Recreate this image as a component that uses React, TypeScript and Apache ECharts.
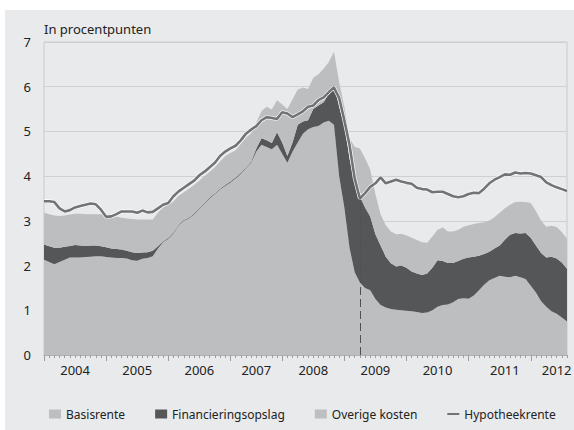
import React, { useEffect, useRef } from "react";
import * as echarts from "echarts";

// Monthly observations, starting January 2004
const startYear = 2004;
const months: string[] = Array.from({ length: 102 }, (_, i) => {
  const y = startYear + Math.floor(i / 12);
  const m = (i % 12) + 1;
  return `${y}-${m < 10 ? "0" + m : m}`;
});

const basisrente = [
  2.13, 2.08, 2.03, 2.08, 2.13, 2.18, 2.18, 2.18, 2.19, 2.2, 2.21, 2.21,
  2.19, 2.18, 2.17, 2.17, 2.16, 2.12, 2.11, 2.15, 2.17, 2.21, 2.38, 2.52,
  2.6, 2.72, 2.9, 3.0, 3.05, 3.15, 3.27, 3.38, 3.5, 3.6, 3.7, 3.78,
  3.86, 3.95, 4.05, 4.18, 4.3, 4.55, 4.7, 4.65, 4.6, 4.7,
  4.5, 4.3, 4.55, 4.75, 4.95, 5.05, 5.1, 5.12, 5.2, 5.24, 5.15, 4.0,
  3.3, 2.4, 1.85, 1.62, 1.5, 1.45, 1.25, 1.12, 1.06, 1.03, 1.01, 1.0,
  0.99, 0.98, 0.96, 0.94, 0.95, 1.0, 1.08, 1.12, 1.13, 1.18, 1.25, 1.27,
  1.26, 1.33, 1.45, 1.57, 1.67, 1.72, 1.77, 1.75, 1.74, 1.77, 1.74, 1.7,
  1.55, 1.4, 1.2, 1.08, 0.98, 0.92, 0.84, 0.75,
];

const financieringsopslag = [
  0.34, 0.35, 0.37, 0.32, 0.29, 0.26, 0.28, 0.27, 0.25, 0.25, 0.24, 0.22,
  0.22, 0.2, 0.2, 0.19, 0.17, 0.18, 0.17, 0.14, 0.13, 0.12, 0.05, 0.02,
  0.02, 0.02, 0.02, 0.02, 0.02, 0.02, 0.02, 0.02, 0.02, 0.02, 0.02, 0.02,
  0.02, 0.02, 0.02, 0.02, 0.02, 0.07, 0.15, 0.15, 0.14, 0.28,
  0.25, 0.15, 0.2, 0.4, 0.27, 0.2, 0.4, 0.46, 0.45, 0.61, 0.9, 1.55,
  1.85, 2.0, 2.0, 1.93, 1.8, 1.65, 1.45, 1.33, 1.14, 1.02, 0.97, 1.0,
  0.96, 0.89, 0.86, 0.85, 0.87, 0.95, 1.04, 0.98, 0.93, 0.88, 0.85, 0.88,
  0.92, 0.87, 0.77, 0.69, 0.64, 0.66, 0.68, 0.83, 0.95, 0.96, 0.98, 1.03,
  1.07, 1.05, 1.08, 1.1, 1.22, 1.24, 1.23, 1.18,
];

const overigeKosten = [
  0.71, 0.72, 0.72, 0.71, 0.7, 0.7, 0.7, 0.71, 0.71, 0.7, 0.7, 0.72,
  0.72, 0.74, 0.73, 0.71, 0.72, 0.74, 0.75, 0.74, 0.73, 0.7, 0.75, 0.76,
  0.74, 0.7, 0.64, 0.62, 0.65, 0.63, 0.61, 0.6, 0.58, 0.58, 0.61, 0.65,
  0.64, 0.61, 0.65, 0.66, 0.64, 0.58, 0.6, 0.75, 0.75, 0.72,
  0.85, 1.05, 0.97, 0.79, 0.76, 0.7, 0.7, 0.7, 0.75, 0.7, 0.73, 0.55,
  0.4, 0.45, 0.81, 1.07, 1.1, 1.05, 0.9, 0.7, 0.7, 0.71, 0.72, 0.71,
  0.72, 0.75, 0.75, 0.73, 0.69, 0.7, 0.68, 0.75, 0.7, 0.7, 0.7, 0.72,
  0.72, 0.73, 0.73, 0.71, 0.7, 0.7, 0.73, 0.7, 0.67, 0.69, 0.71, 0.69,
  0.78, 0.77, 0.72, 0.69, 0.69, 0.7, 0.68, 0.67,
];

const hypotheekrente = [
  3.44, 3.44, 3.42, 3.28, 3.21, 3.24, 3.3, 3.33, 3.36, 3.39, 3.37, 3.25,
  3.09, 3.1, 3.15, 3.21, 3.21, 3.21, 3.18, 3.23, 3.19, 3.2, 3.28, 3.36,
  3.4, 3.55, 3.66, 3.74, 3.82, 3.9, 4.02, 4.1, 4.2, 4.3, 4.45, 4.55,
  4.62, 4.68, 4.8, 4.95, 5.04, 5.12, 5.25, 5.32, 5.3, 5.28,
  5.43, 5.4, 5.32, 5.38, 5.45, 5.55, 5.58, 5.7, 5.76, 5.88, 5.98, 5.75,
  5.25, 4.7, 3.95, 3.5, 3.62, 3.76, 3.84, 3.97, 3.84, 3.88, 3.92, 3.88,
  3.85, 3.83, 3.74, 3.71, 3.7, 3.64, 3.65, 3.65, 3.6, 3.55, 3.53, 3.55,
  3.6, 3.63, 3.62, 3.72, 3.84, 3.92, 3.98, 4.04, 4.03, 4.08, 4.06, 4.07,
  4.06, 4.02, 3.98, 3.86, 3.8, 3.75, 3.71, 3.67,
];

// Axis tick / label placement (category indices as in the reference)
const yearTickIndex = [0, 12, 24, 36, 46, 58, 70, 82, 94];
const yearLabels = ["2004", "2005", "2006", "2007", "2008", "2009", "2010", "2011", "2012"];
const yearLabelIndex = [6, 18, 30, 41, 52, 64, 76, 89, 99];
const markerIndex = 61;

const FONT = "'Noto Sans', 'Open Sans', sans-serif";
const LIGHT = "#bdbec0";
const DARK = "#555658";
const LINE = "#727375";

export default function App() {
  const ref = useRef<HTMLDivElement>(null);

  useEffect(() => {
    if (!ref.current) return;
    const chart = echarts.init(ref.current, undefined, { renderer: "svg" });
    const labelByMonth: Record<string, string> = {};
    yearLabelIndex.forEach((idx, k) => {
      labelByMonth[months[idx]] = yearLabels[k];
    });

    const areaSeries = (name: string, data: number[], color: string) => ({
      name,
      type: "line",
      stack: "total",
      data,
      symbol: "none",
      showSymbol: false,
      lineStyle: { width: 0 },
      areaStyle: { color, opacity: 1 },
      itemStyle: { color },
      z: 2,
      silent: true,
    });

    const option: any = {
      animation: false,
      backgroundColor: "#ffffff",
      textStyle: { fontFamily: FONT },
      graphic: [
        {
          type: "rect",
          z: -10,
          silent: true,
          shape: { x: 5, y: 10, width: 569, height: 420 },
          style: { fill: "#e9eaec" },
        },
        {
          type: "text",
          left: 44,
          top: 22,
          style: { text: "In procentpunten", fontSize: 13, fill: "#222", fontFamily: FONT },
        },
      ],
      grid: {
        left: 44,
        right: 7,
        top: 42,
        bottom: 75,
        show: true,
        borderColor: "#c9cacc",
        borderWidth: 1,
        backgroundColor: "transparent",
        containLabel: false,
        outerBoundsMode: "none",
      },
      legend: {
        left: 44,
        top: 403,
        itemWidth: 12,
        itemHeight: 9,
        itemGap: 30,
        textStyle: { fontSize: 12, color: "#222", fontFamily: FONT },
        itemStyle: { borderWidth: 0 },
        data: [
          { name: "Basisrente", icon: "rect" },
          { name: "Financieringsopslag", icon: "rect" },
          { name: "Overige kosten", icon: "rect" },
          {
            name: "Hypotheekrente",
            icon: "path://M0,0H16V0.05H0Z M0,3.6H16V6.4H0Z M0,9.95H16V10H0Z",
          },
        ],
      },
      xAxis: [
        {
          type: "category",
          data: months,
          boundaryGap: false,
          position: "bottom",
          axisLine: { show: true, lineStyle: { color: "#b0b1b3", width: 1 } },
          axisTick: { show: true, interval: 0, length: 3, lineStyle: { color: "#9c9d9f" } },
          axisLabel: { show: false },
          splitLine: { show: false },
        },
        {
          type: "category",
          data: months,
          boundaryGap: false,
          position: "bottom",
          axisLine: { show: false },
          axisTick: {
            show: true,
            interval: (i: number) => yearTickIndex.indexOf(i) >= 0,
            length: 6,
            lineStyle: { color: "#9c9d9f" },
          },
          axisLabel: {
            show: true,
            interval: (i: number) => yearLabelIndex.indexOf(i) >= 0,
            formatter: (v: string) => labelByMonth[v] || "",
            fontSize: 13,
            color: "#222",
            margin: 8,
            fontFamily: FONT,
          },
          splitLine: { show: false },
        },
      ],
      yAxis: {
        type: "value",
        min: 0,
        max: 7,
        interval: 1,
        axisLine: { show: false },
        axisTick: { show: false },
        splitLine: { show: true, lineStyle: { color: "#cfd0d2", width: 1 } },
        axisLabel: { fontSize: 13, color: "#222", margin: 13, fontFamily: FONT },
      },
      series: [
        areaSeries("Basisrente", basisrente, LIGHT),
        areaSeries("Financieringsopslag", financieringsopslag, DARK),
        areaSeries("Overige kosten", overigeKosten, LIGHT),
        {
          name: "casing",
          type: "line",
          data: hypotheekrente,
          symbol: "none",
          showSymbol: false,
          lineStyle: { color: "#ffffff", width: 3.8 },
          z: 3,
          silent: true,
        },
        {
          name: "Hypotheekrente",
          type: "line",
          data: hypotheekrente,
          symbol: "none",
          showSymbol: false,
          lineStyle: { color: LINE, width: 2.6 },
          itemStyle: { color: LINE },
          z: 4,
          silent: true,
          markLine: {
            silent: true,
            symbol: ["none", "none"],
            label: { show: false },
            lineStyle: { color: "#505153", type: [8, 4], width: 1 },
            data: [
              [
                { coord: [months[markerIndex], 0] },
                { coord: [months[markerIndex], hypotheekrente[markerIndex]] },
              ],
            ],
          },
        },
      ],
    };

    chart.setOption(option);
    return () => chart.dispose();
  }, []);

  return (
    <div
      ref={ref}
      style={{ position: "absolute", left: 0, top: 0, width: 574, height: 430 }}
    />
  );
}
